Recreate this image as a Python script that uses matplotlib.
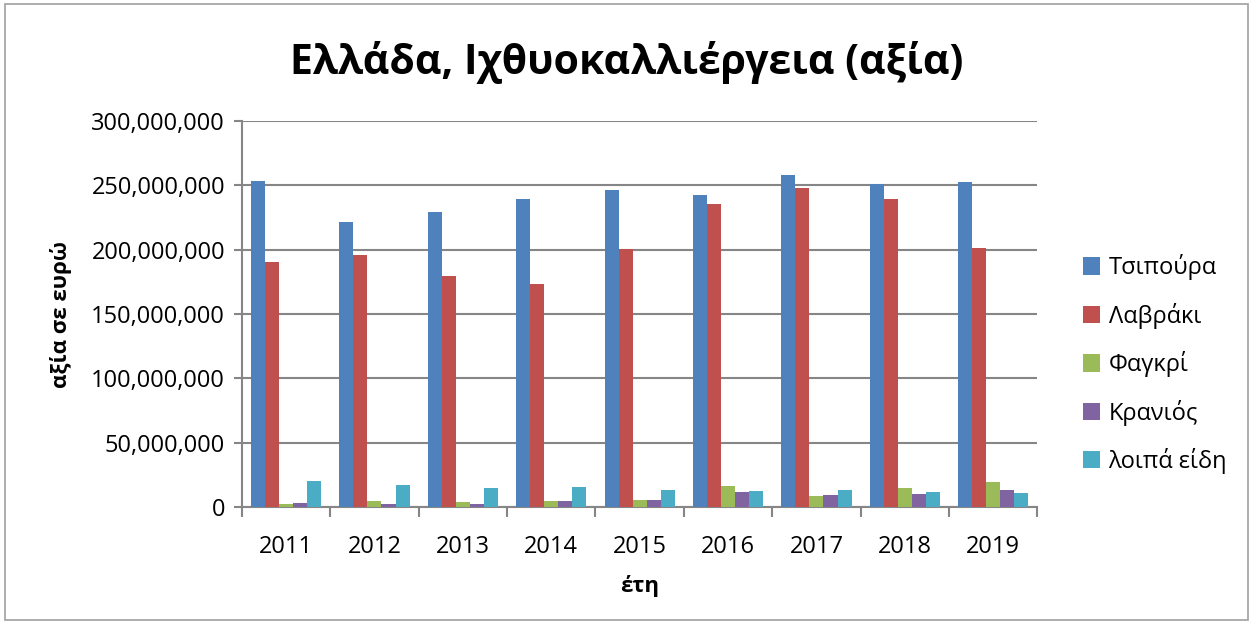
import matplotlib.pyplot as plt
import numpy as np
from matplotlib.patches import Rectangle
from matplotlib.ticker import FuncFormatter, FixedLocator

years = ["2011", "2012", "2013", "2014", "2015", "2016", "2017", "2018", "2019"]
series_names = ["Τσιπούρα", "Λαβράκι", "Φαγκρί", "Κρανιός", "λοιπά είδη"]

tsipoura = [253.4e6, 221.5e6, 229.0e6, 239.4e6, 246.4e6, 242.5e6, 257.8e6, 250.8e6, 252.8e6]
lavraki = [190.2e6, 195.6e6, 179.5e6, 173.3e6, 200.3e6, 235.5e6, 248.2e6, 239.4e6, 201.0e6]
fagkri = [2.0e6, 4.5e6, 3.5e6, 4.9e6, 5.6e6, 16.5e6, 8.4e6, 14.4e6, 19.6e6]
kranios = [2.8e6, 2.0e6, 2.0e6, 4.4e6, 5.6e6, 12.0e6, 9.5e6, 10.0e6, 13.0e6]
loipa = [20.0e6, 16.8e6, 14.7e6, 15.3e6, 13.6e6, 12.6e6, 13.0e6, 11.5e6, 11.0e6]

colors = ["#4F81BD", "#C0504D", "#9BBB59", "#8064A2", "#4BACC6"]

plt.rcParams["font.family"] = ["Open Sans", "DejaVu Sans"]

fig = plt.figure(figsize=(12.53, 6.24), dpi=100)
ax = fig.add_axes([0.193, 0.1875, 0.635, 0.6185])

# outer frame like the Excel chart area
fig.patches.append(Rectangle((0.004, 0.006), 0.992, 0.988, transform=fig.transFigure,
                             fill=False, edgecolor="#A0A0A0", linewidth=1.2))

x = np.arange(len(years))
width = 0.159
all_series = [tsipoura, lavraki, fagkri, kranios, loipa]
for i, (vals, name) in enumerate(zip(all_series, series_names)):
    ax.bar(x + (i - 2) * width, vals, width, color=colors[i], label=name, zorder=3)

ax.set_xlim(-0.5, len(years) - 0.5)
ax.set_ylim(0, 300e6)
ax.set_yticks(np.arange(0, 300e6 + 1, 50e6))
ax.yaxis.set_major_formatter(FuncFormatter(lambda v, p: f"{int(v):,}"))
ax.set_xticks(x)
ax.set_xticklabels(years)
ax.xaxis.set_minor_locator(FixedLocator(np.arange(-0.5, len(years), 1.0)))
ax.tick_params(axis="x", which="major", length=0, labelsize=17, pad=20)
ax.tick_params(axis="x", which="minor", length=7, width=1.5, color="#868686")
ax.tick_params(axis="y", length=6, width=1.5, color="#868686", labelsize=17, pad=6)

ax.grid(axis="y", color="#868686", linewidth=1.5, zorder=0)
for side in ["top", "right"]:
    ax.spines[side].set_visible(False)
for side in ["left", "bottom"]:
    ax.spines[side].set_color("#868686")
    ax.spines[side].set_linewidth(1.5)

fig.text(0.5, 0.9, "Ελλάδα, Ιχθυοκαλλιέργεια (αξία)", ha="center", va="center",
         fontsize=29.5, fontweight="bold")
ax.set_xlabel("έτη", fontsize=16, fontweight="bold", labelpad=12)
ax.set_ylabel("αξία σε ευρώ", fontsize=16, fontweight="bold", labelpad=14)

ax.legend(loc="center left", bbox_to_anchor=(1.03, 0.37), frameon=False, fontsize=17,
          handlelength=0.75, handleheight=0.75, handletextpad=0.35, labelspacing=0.95)

fig.savefig("out.png", dpi=100)
